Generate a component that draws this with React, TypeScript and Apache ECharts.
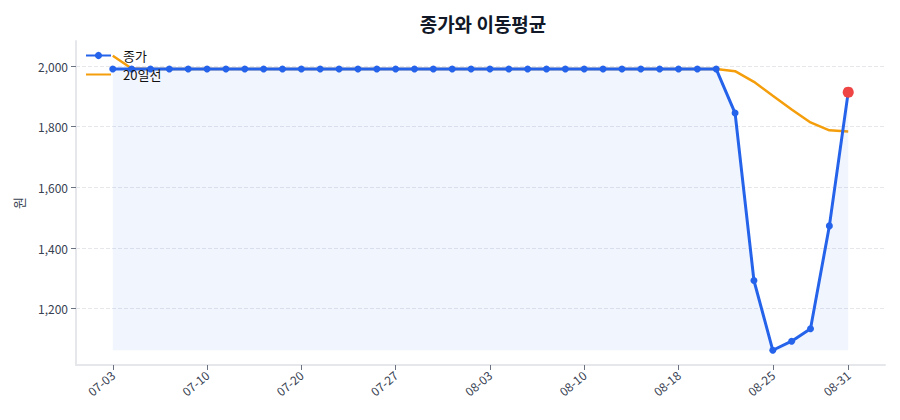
import * as echarts from 'echarts';
import React, { useEffect, useRef } from 'react';

const dates = [
  '07-03', '07-04', '07-06', '07-07', '07-09', '07-10', '07-12', '07-14', '07-16', '07-18',
  '07-20', '07-21', '07-23', '07-24', '07-26', '07-27', '07-29', '07-30', '08-01', '08-02',
  '08-03', '08-04', '08-06', '08-07', '08-09', '08-10', '08-12', '08-13', '08-15', '08-16',
  '08-18', '08-19', '08-21', '08-22', '08-24', '08-25', '08-27', '08-28', '08-30', '08-31',
];

const close = [
  1990, 1990, 1990, 1990, 1990, 1990, 1990, 1990, 1990, 1990,
  1990, 1990, 1990, 1990, 1990, 1990, 1990, 1990, 1990, 1990,
  1990, 1990, 1990, 1990, 1990, 1990, 1990, 1990, 1990, 1990,
  1990, 1990, 1990, 1845, 1293, 1063, 1093, 1134, 1473, 1914,
];

const ma20 = [
  2034, 1992, 1990, 1990, 1990, 1990, 1990, 1990, 1990, 1990,
  1990, 1990, 1990, 1990, 1990, 1990, 1990, 1990, 1990, 1990,
  1990, 1990, 1990, 1990, 1990, 1990, 1990, 1990, 1990, 1990,
  1990, 1990, 1990, 1983, 1948, 1902, 1857, 1814, 1788, 1784,
];

// indices of the dates that get a tick and a label
const labelIdx = [0, 5, 10, 15, 20, 25, 30, 35, 39];
const yTicks = [1200, 1400, 1600, 1800, 2000];

const FONT = '"Noto Sans CJK KR", "Noto Sans", sans-serif';

const App: React.FC = () => {
  const ref = useRef<HTMLDivElement>(null);
  const chart = useRef<echarts.ECharts>();

  useEffect(() => {
    chart.current = echarts.init(ref.current, undefined, { renderer: 'svg' });
    const last = close.length - 1;
    const lowest = Math.min(...close);
    const all = close.concat(ma20);
    const yLo = Math.min(...all);
    const yHi = Math.max(...all);
    const yPad = (yHi - yLo) * 0.05;
    const xPad = last * 0.05;

    chart.current.setOption({
      animation: false,
      textStyle: { fontFamily: FONT },
      title: {
        text: '종가와 이동평균',
        left: 470,
        top: 1,
        textAlign: 'center',
        textStyle: { fontSize: 19, fontWeight: 'bold', color: '#111827', fontFamily: FONT },
      },
      legend: {
        orient: 'vertical',
        left: 72,
        top: 36,
        itemWidth: 25,
        itemHeight: 9,
        itemGap: 6,
        textStyle: { fontSize: 13, color: '#111', fontFamily: FONT, padding: [0, 0, 0, 7] },
        data: ['종가', { name: '20일선', itemStyle: { opacity: 0 } }],
      },
      grid: { left: 68, right: 7, top: 33, bottom: 47, outerBoundsMode: 'none' },
      xAxis: {
        type: 'value',
        min: -xPad,
        max: last + xPad,
        splitLine: { show: false },
        axisLine: { show: true, onZero: false, lineStyle: { color: '#e5e7eb', width: 2 } },
        axisTick: { show: true, customValues: labelIdx, lineStyle: { color: '#6b7280' }, length: 5 },
        axisLabel: {
          customValues: labelIdx,
          rotate: 40,
          color: '#374151',
          fontSize: 12,
          fontFamily: FONT,
          formatter: (v: number) => dates[Math.round(v)],
        },
      },
      yAxis: {
        type: 'value',
        name: '원',
        nameLocation: 'middle',
        nameGap: 51,
        nameTextStyle: { color: '#374151', fontSize: 13, fontFamily: FONT },
        min: yLo - yPad,
        max: yHi + yPad,
        axisLine: { show: true, onZero: false, lineStyle: { color: '#e5e7eb', width: 2 } },
        axisTick: { show: true, customValues: yTicks, lineStyle: { color: '#6b7280' }, length: 5 },
        axisLabel: { customValues: yTicks, color: '#374151', fontSize: 12, fontFamily: FONT },
        splitLine: { show: false },
      },
      series: [
        {
          name: '종가',
          type: 'line',
          symbol: 'circle',
          symbolSize: 7,
          lineStyle: { color: '#2563eb', width: 3 },
          itemStyle: { color: '#2563eb' },
          areaStyle: { color: 'rgba(37, 99, 235, 0.09)', origin: lowest },
          data: close.map((v, i) =>
            i === last
              ? { value: [i, v], symbolSize: 11, itemStyle: { color: '#ef4444' } }
              : [i, v]
          ),
          markLine: {
            silent: true,
            symbol: 'none',
            label: { show: false },
            lineStyle: { color: '#e5e7eb', type: 'dashed', width: 1 },
            data: yTicks.map((t) => ({ yAxis: t })),
            z: 0,
          },
          z: 3,
        },
        {
          name: '20일선',
          type: 'line',
          symbol: 'none',
          lineStyle: { color: '#f59e0b', width: 2.5 },
          itemStyle: { color: '#f59e0b' },
          data: ma20.map((v, i) => [i, v]),
          z: 2,
        },
      ],
    });

    return () => {
      chart.current?.dispose();
    };
  }, []);

  return <div ref={ref} style={{ width: 884, height: 404 }}></div>;
};

export default App;
